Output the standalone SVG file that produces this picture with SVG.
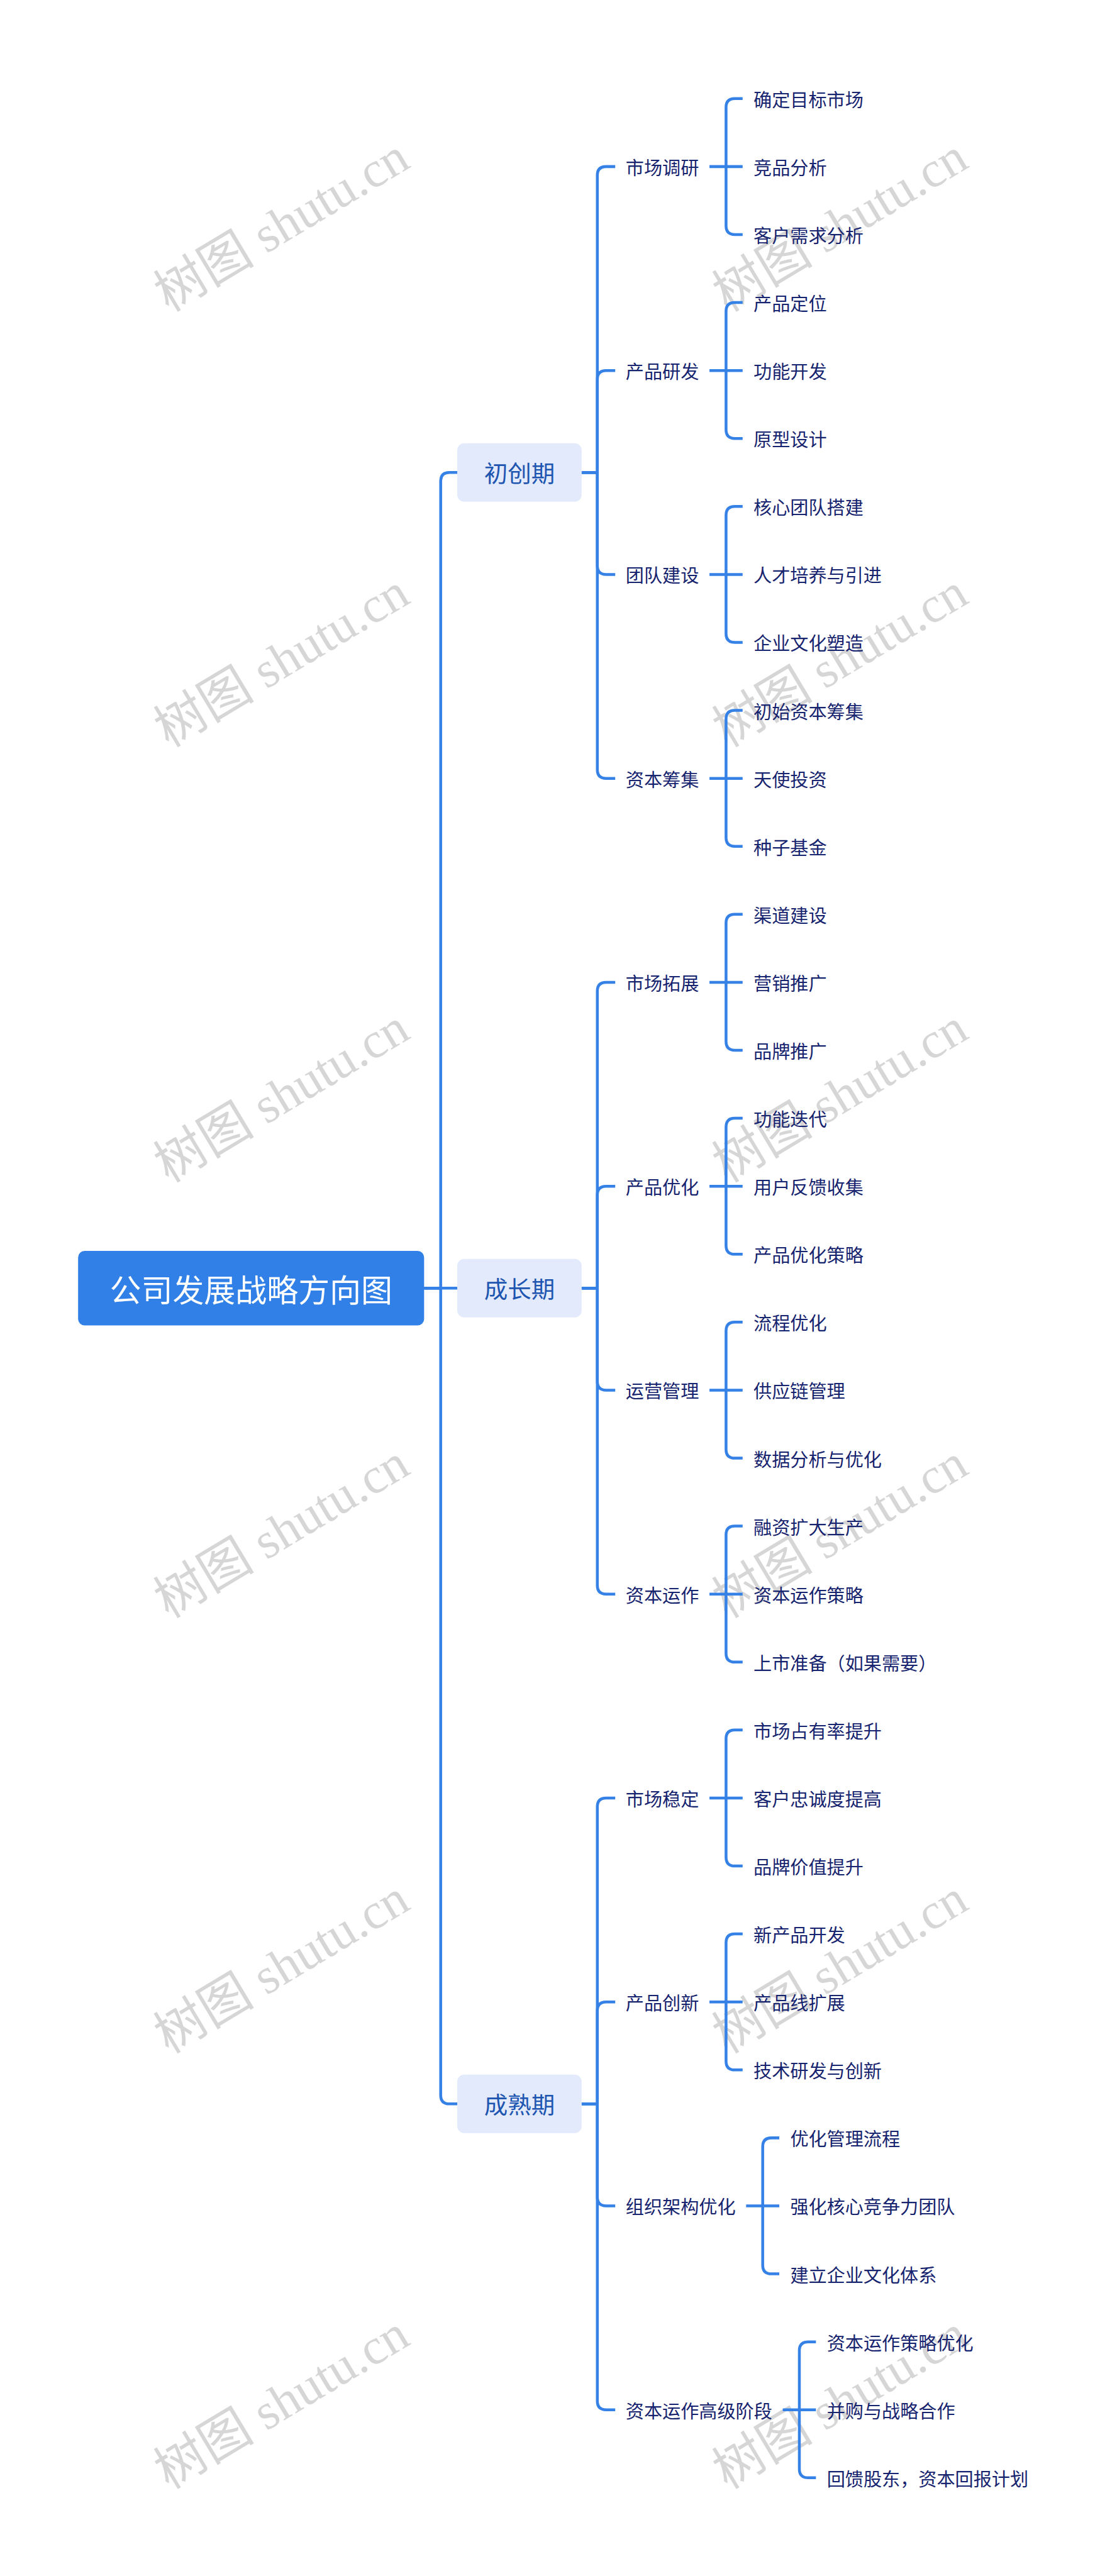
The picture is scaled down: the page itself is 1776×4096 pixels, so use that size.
<svg xmlns="http://www.w3.org/2000/svg" width="1776" height="4096" viewBox="0 0 1776 4096">
<style>
.c{fill:none;stroke:#3581E6;stroke-width:6.5}
.wm{font-family:"Liberation Serif","Noto Sans CJK SC",serif;font-size:116px;fill:#d6d6d6;text-anchor:middle;dominant-baseline:central}
.rt{font-family:"Noto Sans CJK SC","Noto Sans",sans-serif;font-size:72px;fill:#ffffff;text-anchor:middle;dominant-baseline:central}
.l1{font-family:"Noto Sans CJK SC","Noto Sans",sans-serif;font-size:54px;fill:#1D55B0;text-anchor:middle;dominant-baseline:central}
.l1b{fill:#E2EAFC}
.t{font-family:"Noto Sans CJK SC","Noto Sans",sans-serif;font-size:42px;fill:#16236E;dominant-baseline:central}
</style>
<rect width="1776" height="4096" fill="#ffffff"/>
<g transform="scale(0.69375)">
<g id="watermarks">
<text class="wm" x="645" y="515" transform="rotate(-31 645 515)">树图 shutu.cn</text>
<text class="wm" x="1925" y="515" transform="rotate(-31 1925 515)">树图 shutu.cn</text>
<text class="wm" x="645" y="1513" transform="rotate(-31 645 1513)">树图 shutu.cn</text>
<text class="wm" x="1925" y="1513" transform="rotate(-31 1925 1513)">树图 shutu.cn</text>
<text class="wm" x="645" y="2511" transform="rotate(-31 645 2511)">树图 shutu.cn</text>
<text class="wm" x="1925" y="2511" transform="rotate(-31 1925 2511)">树图 shutu.cn</text>
<text class="wm" x="645" y="3509" transform="rotate(-31 645 3509)">树图 shutu.cn</text>
<text class="wm" x="1925" y="3509" transform="rotate(-31 1925 3509)">树图 shutu.cn</text>
<text class="wm" x="645" y="4507" transform="rotate(-31 645 4507)">树图 shutu.cn</text>
<text class="wm" x="1925" y="4507" transform="rotate(-31 1925 4507)">树图 shutu.cn</text>
<text class="wm" x="645" y="5505" transform="rotate(-31 645 5505)">树图 shutu.cn</text>
<text class="wm" x="1925" y="5505" transform="rotate(-31 1925 5505)">树图 shutu.cn</text>
</g>
<g id="connectors">
<path class="c" d="M972 2952.5H1010V1102.9Q1010 1082.9 1030 1082.9H1048"/>
<path class="c" d="M972 2952.5H1048"/>
<path class="c" d="M972 2952.5H1010V4802.1Q1010 4822.1 1030 4822.1H1048"/>
<path class="c" d="M1333 1082.9H1369V401.8Q1369 381.8 1389 381.8H1410"/>
<path class="c" d="M1333 1082.9H1369V869.2Q1369 849.2 1389 849.2H1410"/>
<path class="c" d="M1333 1082.9H1369V1296.6Q1369 1316.6 1389 1316.6H1410"/>
<path class="c" d="M1333 1082.9H1369V1764Q1369 1784 1389 1784H1410"/>
<path class="c" d="M1333 2952.5H1369V2271.4Q1369 2251.4 1389 2251.4H1410"/>
<path class="c" d="M1333 2952.5H1369V2738.8Q1369 2718.8 1389 2718.8H1410"/>
<path class="c" d="M1333 2952.5H1369V3166.2Q1369 3186.2 1389 3186.2H1410"/>
<path class="c" d="M1333 2952.5H1369V3633.6Q1369 3653.6 1389 3653.6H1410"/>
<path class="c" d="M1333 4822.1H1369V4141Q1369 4121 1389 4121H1410"/>
<path class="c" d="M1333 4822.1H1369V4608.4Q1369 4588.4 1389 4588.4H1410"/>
<path class="c" d="M1333 4822.1H1369V5035.8Q1369 5055.8 1389 5055.8H1410"/>
<path class="c" d="M1333 4822.1H1369V5503.2Q1369 5523.2 1389 5523.2H1410"/>
<path class="c" d="M1626 381.8H1664V246Q1664 226 1684 226H1702M1626 381.8H1702M1626 381.8H1664V517.6Q1664 537.6 1684 537.6H1702"/>
<path class="c" d="M1626 849.2H1664V713.4Q1664 693.4 1684 693.4H1702M1626 849.2H1702M1626 849.2H1664V985Q1664 1005 1684 1005H1702"/>
<path class="c" d="M1626 1316.6H1664V1180.8Q1664 1160.8 1684 1160.8H1702M1626 1316.6H1702M1626 1316.6H1664V1452.4Q1664 1472.4 1684 1472.4H1702"/>
<path class="c" d="M1626 1784H1664V1648.2Q1664 1628.2 1684 1628.2H1702M1626 1784H1702M1626 1784H1664V1919.8Q1664 1939.8 1684 1939.8H1702"/>
<path class="c" d="M1626 2251.4H1664V2115.6Q1664 2095.6 1684 2095.6H1702M1626 2251.4H1702M1626 2251.4H1664V2387.2Q1664 2407.2 1684 2407.2H1702"/>
<path class="c" d="M1626 2718.8H1664V2583Q1664 2563 1684 2563H1702M1626 2718.8H1702M1626 2718.8H1664V2854.6Q1664 2874.6 1684 2874.6H1702"/>
<path class="c" d="M1626 3186.2H1664V3050.4Q1664 3030.4 1684 3030.4H1702M1626 3186.2H1702M1626 3186.2H1664V3322Q1664 3342 1684 3342H1702"/>
<path class="c" d="M1626 3653.6H1664V3517.8Q1664 3497.8 1684 3497.8H1702M1626 3653.6H1702M1626 3653.6H1664V3789.4Q1664 3809.4 1684 3809.4H1702"/>
<path class="c" d="M1626 4121H1664V3985.2Q1664 3965.2 1684 3965.2H1702M1626 4121H1702M1626 4121H1664V4256.8Q1664 4276.8 1684 4276.8H1702"/>
<path class="c" d="M1626 4588.4H1664V4452.6Q1664 4432.6 1684 4432.6H1702M1626 4588.4H1702M1626 4588.4H1664V4724.2Q1664 4744.2 1684 4744.2H1702"/>
<path class="c" d="M1710 5055.8H1748V4920Q1748 4900 1768 4900H1786M1710 5055.8H1786M1710 5055.8H1748V5191.6Q1748 5211.6 1768 5211.6H1786"/>
<path class="c" d="M1794 5523.2H1832V5387.4Q1832 5367.4 1852 5367.4H1870M1794 5523.2H1870M1794 5523.2H1832V5659Q1832 5679 1852 5679H1870"/>
</g>
<g id="root"><rect x="179" y="2867" width="793" height="171" rx="15" fill="#3180E8"/><text class="rt" x="575.5" y="2952.5">公司发展战略方向图</text></g>
<g id="n1"><rect class="l1b" x="1048" y="1015.9" width="285" height="134" rx="16"/><text class="l1" x="1190.5" y="1082.9">初创期</text></g>
<g id="n2"><rect class="l1b" x="1048" y="2885.5" width="285" height="134" rx="16"/><text class="l1" x="1190.5" y="2952.5">成长期</text></g>
<g id="n3"><rect class="l1b" x="1048" y="4755.1" width="285" height="134" rx="16"/><text class="l1" x="1190.5" y="4822.1">成熟期</text></g>
<g id="n1-1"><text class="t" x="1434" y="381.8">市场调研</text></g>
<g id="n1-2"><text class="t" x="1434" y="849.2">产品研发</text></g>
<g id="n1-3"><text class="t" x="1434" y="1316.6">团队建设</text></g>
<g id="n1-4"><text class="t" x="1434" y="1784">资本筹集</text></g>
<g id="n2-1"><text class="t" x="1434" y="2251.4">市场拓展</text></g>
<g id="n2-2"><text class="t" x="1434" y="2718.8">产品优化</text></g>
<g id="n2-3"><text class="t" x="1434" y="3186.2">运营管理</text></g>
<g id="n2-4"><text class="t" x="1434" y="3653.6">资本运作</text></g>
<g id="n3-1"><text class="t" x="1434" y="4121">市场稳定</text></g>
<g id="n3-2"><text class="t" x="1434" y="4588.4">产品创新</text></g>
<g id="n3-3"><text class="t" x="1434" y="5055.8">组织架构优化</text></g>
<g id="n3-4"><text class="t" x="1434" y="5523.2">资本运作高级阶段</text></g>
<g id="l0"><text class="t" x="1727" y="226">确定目标市场</text></g>
<g id="l1"><text class="t" x="1727" y="381.8">竞品分析</text></g>
<g id="l2"><text class="t" x="1727" y="537.6">客户需求分析</text></g>
<g id="l3"><text class="t" x="1727" y="693.4">产品定位</text></g>
<g id="l4"><text class="t" x="1727" y="849.2">功能开发</text></g>
<g id="l5"><text class="t" x="1727" y="1005">原型设计</text></g>
<g id="l6"><text class="t" x="1727" y="1160.8">核心团队搭建</text></g>
<g id="l7"><text class="t" x="1727" y="1316.6">人才培养与引进</text></g>
<g id="l8"><text class="t" x="1727" y="1472.4">企业文化塑造</text></g>
<g id="l9"><text class="t" x="1727" y="1628.2">初始资本筹集</text></g>
<g id="l10"><text class="t" x="1727" y="1784">天使投资</text></g>
<g id="l11"><text class="t" x="1727" y="1939.8">种子基金</text></g>
<g id="l12"><text class="t" x="1727" y="2095.6">渠道建设</text></g>
<g id="l13"><text class="t" x="1727" y="2251.4">营销推广</text></g>
<g id="l14"><text class="t" x="1727" y="2407.2">品牌推广</text></g>
<g id="l15"><text class="t" x="1727" y="2563">功能迭代</text></g>
<g id="l16"><text class="t" x="1727" y="2718.8">用户反馈收集</text></g>
<g id="l17"><text class="t" x="1727" y="2874.6">产品优化策略</text></g>
<g id="l18"><text class="t" x="1727" y="3030.4">流程优化</text></g>
<g id="l19"><text class="t" x="1727" y="3186.2">供应链管理</text></g>
<g id="l20"><text class="t" x="1727" y="3342">数据分析与优化</text></g>
<g id="l21"><text class="t" x="1727" y="3497.8">融资扩大生产</text></g>
<g id="l22"><text class="t" x="1727" y="3653.6">资本运作策略</text></g>
<g id="l23"><text class="t" x="1727" y="3809.4">上市准备（如果需要）</text></g>
<g id="l24"><text class="t" x="1727" y="3965.2">市场占有率提升</text></g>
<g id="l25"><text class="t" x="1727" y="4121">客户忠诚度提高</text></g>
<g id="l26"><text class="t" x="1727" y="4276.8">品牌价值提升</text></g>
<g id="l27"><text class="t" x="1727" y="4432.6">新产品开发</text></g>
<g id="l28"><text class="t" x="1727" y="4588.4">产品线扩展</text></g>
<g id="l29"><text class="t" x="1727" y="4744.2">技术研发与创新</text></g>
<g id="l30"><text class="t" x="1811" y="4900">优化管理流程</text></g>
<g id="l31"><text class="t" x="1811" y="5055.8">强化核心竞争力团队</text></g>
<g id="l32"><text class="t" x="1811" y="5211.6">建立企业文化体系</text></g>
<g id="l33"><text class="t" x="1895" y="5367.4">资本运作策略优化</text></g>
<g id="l34"><text class="t" x="1895" y="5523.2">并购与战略合作</text></g>
<g id="l35"><text class="t" x="1895" y="5679">回馈股东，资本回报计划</text></g>
</g>
</svg>
